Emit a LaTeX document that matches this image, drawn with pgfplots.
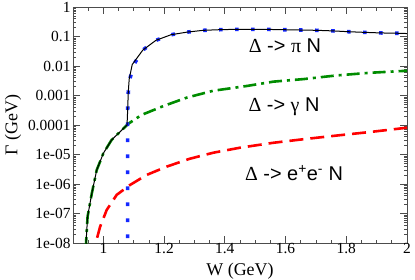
\documentclass[border=0pt]{standalone}
\usepackage{fontspec}
\setmainfont{Liberation Serif}
\newfontfamily\sansf{Liberation Sans}
\usepackage{pgfplots}
\pgfplotsset{compat=1.18}
\definecolor{dgreen}{RGB}{0,140,0}
\definecolor{dblue}{RGB}{20,40,255}

\pgfplotstableread{
W G
0.9390 1.0e-10
0.9430 1.02e-8
0.9480 7.8e-8
0.9620 4.8e-7
0.9780 2.95e-6
1.0000 1.10e-5
1.0270 3.10e-5
1.0550 5.90e-5
1.0780 1.00e-4
1.0800 3.16e-4
1.0820 1.26e-3
1.0850 3.55e-3
1.0950 1.12e-2
1.1300 3.47e-2
1.1730 7.41e-2
1.2230 0.115
1.2760 0.141
1.3290 0.162
1.3820 0.170
1.4350 0.175
1.4870 0.175
1.5410 0.174
1.5930 0.170
1.6480 0.166
1.7030 0.162
1.7560 0.155
1.8090 0.145
1.8620 0.138
1.9150 0.132
1.9690 0.129
2.0000 0.126
}\total

\pgfplotstableread{
W G
1.0800 1.0e-10
1.0800 3.16e-4
1.0820 1.26e-3
1.0870 3.55e-3
1.1000 1.12e-2
1.1300 3.47e-2
1.1730 7.41e-2
1.2230 0.115
1.2760 0.141
1.3290 0.162
1.3820 0.170
1.4350 0.175
1.4870 0.175
1.5410 0.174
1.5930 0.170
1.6480 0.166
1.7030 0.162
1.7560 0.155
1.8090 0.145
1.8620 0.138
1.9150 0.132
1.9690 0.129
2.0000 0.126
}\piN

\pgfplotstableread{
W G
0.9390 1.0e-10
0.9430 1.02e-8
0.9480 7.8e-8
0.9620 4.8e-7
0.9780 2.95e-6
1.0000 1.10e-5
1.0270 3.10e-5
1.0550 5.90e-5
1.0820 1.10e-4
1.1260 2.20e-4
1.1980 4.40e-4
1.2750 8.50e-4
1.3620 1.45e-3
1.4720 2.10e-3
1.5600 2.95e-3
1.6590 3.60e-3
1.7690 4.80e-3
1.8790 5.90e-3
2.0000 6.90e-3
}\gammaN

\pgfplotstableread{
W G
0.9680 3.0e-9
0.9760 1.1e-8
0.9890 3.5e-8
1.0110 1.32e-7
1.0440 4.3e-7
1.0880 9.3e-7
1.1430 2.04e-6
1.2090 3.9e-6
1.2850 7.2e-6
1.3620 1.15e-5
1.4500 1.70e-5
1.5600 2.5e-5
1.6590 3.3e-5
1.7690 4.4e-5
1.8790 5.8e-5
2.0000 8.1e-5
}\eeN

\begin{document}
\begin{tikzpicture}
\useasboundingbox (-73bp,-37bp) rectangle (342bp,243bp);
\begin{axis}[
  at={(0,0)}, anchor=south west,
  scale only axis, width=334bp, height=236bp,
  xmin=0.9, xmax=2, ymin=1e-8, ymax=1, ymode=log,
  axis line style={black!70, line width=0.8bp},
  every tick/.style={black!70, line width=0.7bp},
  tick align=inside,
  major tick length=7bp, minor tick length=3.5bp,
  xtick={1,1.2,1.4,1.6,1.8,2},
  xticklabels={1,1.2,1.4,1.6,1.8,2},
  minor xtick={0.9,0.95,1.05,1.1,1.15,1.25,1.3,1.35,1.45,1.5,1.55,1.65,1.7,1.75,1.85,1.9,1.95},
  ytick={1e-8,1e-7,1e-6,1e-5,1e-4,1e-3,1e-2,1e-1,1},
  yticklabels={1e-08,1e-07,1e-06,1e-05,0.0001,0.001,0.01,0.1,1},
  minor ytick={2e-8,3e-8,4e-8,5e-8,6e-8,7e-8,8e-8,9e-8,
               2e-7,3e-7,4e-7,5e-7,6e-7,7e-7,8e-7,9e-7,
               2e-6,3e-6,4e-6,5e-6,6e-6,7e-6,8e-6,9e-6,
               2e-5,3e-5,4e-5,5e-5,6e-5,7e-5,8e-5,9e-5,
               2e-4,3e-4,4e-4,5e-4,6e-4,7e-4,8e-4,9e-4,
               2e-3,3e-3,4e-3,5e-3,6e-3,7e-3,8e-3,9e-3,
               2e-2,3e-2,4e-2,5e-2,6e-2,7e-2,8e-2,9e-2,
               2e-1,3e-1,4e-1,5e-1,6e-1,7e-1,8e-1,9e-1},
  /pgf/number format/assume math mode=true,
  tick label style={font=\fontsize{15.5}{16}\selectfont, black},
  xticklabel style={yshift=1bp, inner sep=1.5bp},
  yticklabel style={xshift=1bp},
  xlabel={W (GeV)}, ylabel={Γ (GeV)},
  every axis x label/.style={at={(axis description cs:0.5,0)}, yshift=-28bp, anchor=center, inner sep=0pt, font=\fontsize{18}{18}\selectfont},
  every axis y label/.style={at={(axis description cs:0,0.5)}, xshift=-60bp, anchor=center, rotate=90, font=\fontsize{18}{18}\selectfont},
  clip=true,
]
\addplot[red, line width=2.6bp, dash pattern=on 14bp off 7bp] table[x=W,y=G] {\eeN};
\addplot[dgreen, line width=2.6bp, dash pattern=on 13bp off 5bp on 3bp off 5bp] table[x=W,y=G] {\gammaN};
\addplot[dblue, line width=3.6bp, dash pattern=on 3.6bp off 12.4bp] table[x=W,y=G] {\piN};
\addplot[black, line width=1bp] table[x=W,y=G] {\total};
\node[font=\sansf\fontsize{20}{20}\selectfont] at (axis cs:1.598,0.048) {{\rmfamily Δ} -> {\rmfamily π} N};
\node[font=\sansf\fontsize{20}{20}\selectfont] at (axis cs:1.595,4.1e-4) {{\rmfamily Δ} -> {\rmfamily γ} N};
\node[font=\sansf\fontsize{20}{20}\selectfont] at (axis cs:1.628,2.35e-6) {{\rmfamily Δ} -> e\textsuperscript{+}e\textsuperscript{-} N};
\end{axis}
\end{tikzpicture}
\end{document}
